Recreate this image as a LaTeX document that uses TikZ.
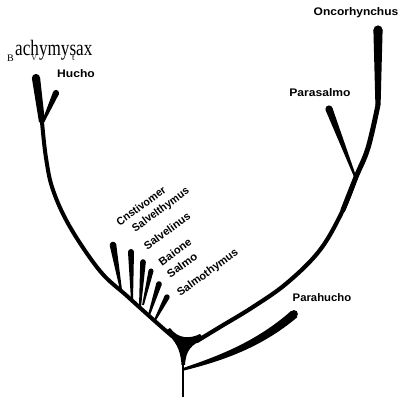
\documentclass[tikz,border=0pt]{standalone}
\usepackage{fontspec}
\setmainfont{Liberation Sans}
\newfontfamily\serifbig{Liberation Serif}
\usetikzlibrary{calc}
% tapered branch: from #1 (half width #3) to #2 (half width #4), round thick end
\newcommand\taper[4]{%
  \fill ($(#1)!#3!90:(#2)$) -- ($(#2)!#4!-90:(#1)$) -- ($(#2)!#4!90:(#1)$) -- ($(#1)!#3!-90:(#2)$) -- cycle;
  \fill (#2) circle (#4);}
\newcommand\sx[2]{\scalebox{#1}[1]{#2}}
\tikzset{
  lab/.style={font=\fontsize{11}{13}\selectfont\bfseries, inner sep=0pt},
  rlab/.style={lab, rotate=36},
  arcline/.style={line width=4pt, line cap=round, line join=round},
}
\begin{document}
\begin{tikzpicture}[x=1pt,y=-1pt]
\useasboundingbox (0,0) rectangle (402,398);
% ---- coordinates ----
\coordinate (root) at (183,397);
\coordinate (stemtop) at (183,356);
\coordinate (phbase) at (184,369);
\coordinate (phtip) at (294,314);
% left arc
\coordinate (L0) at (172,336);
\coordinate (L1) at (157,323);
\coordinate (L2) at (127,296);
\coordinate (L3) at (100,271);
\coordinate (L4) at (70,227);
\coordinate (L5) at (53,190);
\coordinate (L6) at (46,158);
\coordinate (Ltop) at (42,122);
\coordinate (brtip) at (36,78);
\coordinate (hubase) at (43,122);
\coordinate (hutip) at (56,93);
% right arc
\coordinate (R0) at (197,341);
\coordinate (R1) at (220,327);
\coordinate (R2) at (253,307);
\coordinate (R3) at (287,283);
\coordinate (R4) at (320,250);
\coordinate (R5) at (343,210);
\coordinate (Rj) at (356,177);
\coordinate (R6) at (368,148);
\coordinate (R7) at (378,105);
\coordinate (ontip) at (378,30);
\coordinate (psbase) at (356,179);
\coordinate (pstip) at (329,109);
% small branches
\coordinate (b1) at (121,290);  \coordinate (t1) at (113,245);
\coordinate (b2) at (132,300);  \coordinate (t2) at (131,252);
\coordinate (b3) at (140,307);  \coordinate (t3) at (143,262);
\coordinate (b3b) at (143,305); \coordinate (t3b) at (151,271);
\coordinate (b4) at (149,315);  \coordinate (t4) at (159,284);
\coordinate (b5) at (155,320);  \coordinate (t5) at (167,297);

% ---- stem and blob ----
\draw[line width=2.8pt] (stemtop) -- (root);
\fill (165,331) .. controls (175,341) and (180.5,348) .. (181.5,365) -- (185,365)
      .. controls (186,350) and (191,345) .. (204,339) -- (200,334)
      .. controls (190,339) and (178,339) .. (170,328) -- cycle;

% ---- Parahucho ----
\fill (phbase) ++(0,-1.3) .. controls (215,357) and (255,343) .. (291,311)
      -- (297.5,317) .. controls (260,349) and (218,362) .. (184,370.5) -- cycle;
\fill (phtip) circle (3.9pt);

% ---- left arc ----
\draw[arcline] plot[smooth, tension=0.6] coordinates {(L0) (L1) (L2) (L3) (L4) (L5) (L6) (Ltop)};
\taper{Ltop}{brtip}{3pt}{4.1pt}
\taper{hubase}{hutip}{1.2pt}{3.1pt}

% ---- right arc ----
\draw[line width=4.2pt, line cap=round, line join=round] plot[smooth, tension=0.6]
  coordinates {(R0) (R1) (R2) (R3) (R4) (R5) (Rj)};
\draw[line width=5pt, line cap=round, line join=round] plot[smooth, tension=0.6]
  coordinates {(R5) (Rj) (R6) (R7)};
\taper{R7}{ontip}{2.6pt}{4.6pt}
\taper{psbase}{pstip}{1pt}{3.6pt}

% ---- small branches ----
\taper{b1}{t1}{1pt}{3.3pt}
\taper{b2}{t2}{1pt}{3pt}
\taper{b3}{t3}{1pt}{2.8pt}
\taper{b3b}{t3b}{0.9pt}{2.5pt}
\taper{b4}{t4}{1pt}{2.8pt}
\taper{b5}{t5}{1pt}{2.7pt}

% ---- labels ----
\node[lab] (onc) at (356,13) {\sx{1.09}{Oncorhynchus}};
\node[lab] (psl) at (320,93) {\sx{1.1}{Parasalmo}};
\node[lab] (phl) at (322,298) {\sx{1.03}{Parahucho}};
\node[lab] (hul) at (76,74) {\sx{1.1}{Hucho}};
\node[rlab] (cri) at (141,206) {\sx{0.96}{Cnstivomer}};
\node[rlab] (svt) at (161,210) {\sx{0.95}{Salvelthymus}};
\node[rlab] (svl) at (167,231) {\sx{1.0}{Salvelinus}};
\node[rlab] (bai) at (175,252) {\sx{1.02}{Baione}};
\node[rlab] (sal) at (182,265) {\sx{1.05}{Salmo}};
\node[rlab] (smt) at (208,273) {\sx{1.0}{Salmothymus}};
% garbled Brachymystax
\node[inner sep=0pt, anchor=base west] (brb) at (7,62) {\fontsize{10}{10}\selectfont\serifbig B};
\node[inner sep=0pt, anchor=base west] (bra) at (15,56) {\sx{0.78}{\fontsize{22}{22}\selectfont\serifbig achymysax}};
\node[inner sep=0pt, anchor=base] (brv) at (34.2,61) {\fontsize{7}{7}\selectfont\serifbig V};
\node[inner sep=0pt, anchor=base] (brt) at (73.3,61) {\fontsize{9}{9}\selectfont\serifbig t};
\end{tikzpicture}
\end{document}
